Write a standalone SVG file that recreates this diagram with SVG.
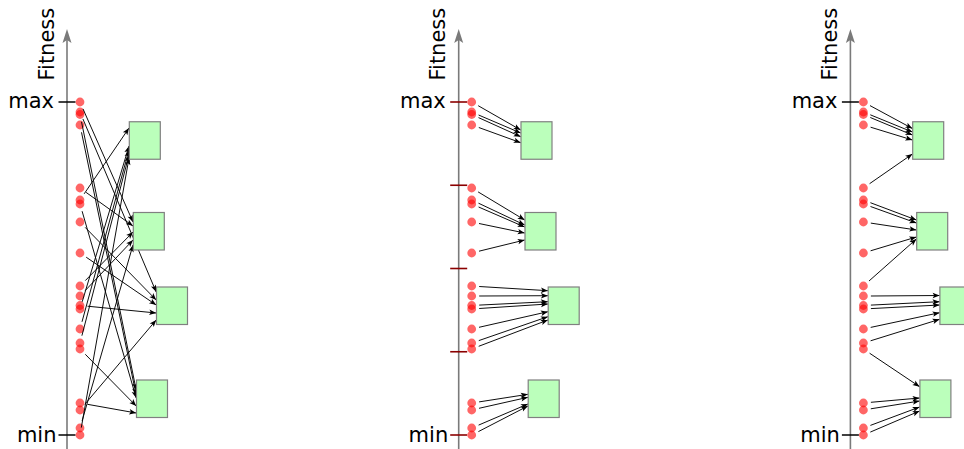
<svg xmlns="http://www.w3.org/2000/svg" xmlns:xlink="http://www.w3.org/1999/xlink" width="964" height="449" viewBox="0 0 964 449">
<style>
text{font-family:"DejaVu Sans","Liberation Sans",sans-serif;font-size:21px;fill:#000}
.axis{stroke:#7a7a7a;stroke-width:1.6;fill:none}
.axhead{fill:#7a7a7a}
.tick{stroke:#000;stroke-width:1.5}
.rtick{stroke:#8b0000;stroke-width:1.6}
.dot{fill:#ff0000;fill-opacity:0.6}
.box{fill:#bbffbb;stroke:#808080;stroke-width:1.2}
.conn line{stroke:#000;stroke-width:0.95;marker-end:url(#ah)}
</style>
<defs>
<marker id="ah" markerUnits="userSpaceOnUse" viewBox="-8 -4 9 8" markerWidth="9" markerHeight="8" refX="0" refY="0" orient="auto">
<path d="M0,0 L-7,-2.7 L-5.4,0 L-7,2.7 Z" fill="#000"/>
</marker>
<g id="axis">
<line class="axis" x1="67" y1="449" x2="67" y2="39"/>
<path class="axhead" d="M67,29 L71.5,43 L67,40 L62.5,43 Z"/>
<text transform="translate(53.5,80.5) rotate(-90)">Fitness</text>
<text x="54" y="107.5" text-anchor="end">max</text>
<text x="56.5" y="441.5" text-anchor="end">min</text>
</g>
<g id="dots">
<circle class="dot" cx="80" cy="102" r="4.4"/>
<circle class="dot" cx="80" cy="112" r="4.4"/>
<circle class="dot" cx="80" cy="114.5" r="4.4"/>
<circle class="dot" cx="80" cy="125" r="4.4"/>
<circle class="dot" cx="80" cy="188" r="4.4"/>
<circle class="dot" cx="80" cy="200" r="4.4"/>
<circle class="dot" cx="80" cy="204" r="4.4"/>
<circle class="dot" cx="80" cy="222" r="4.4"/>
<circle class="dot" cx="80" cy="253" r="4.4"/>
<circle class="dot" cx="80" cy="286" r="4.4"/>
<circle class="dot" cx="80" cy="296" r="4.4"/>
<circle class="dot" cx="80" cy="305.5" r="4.4"/>
<circle class="dot" cx="80" cy="309" r="4.4"/>
<circle class="dot" cx="80" cy="329" r="4.4"/>
<circle class="dot" cx="80" cy="343" r="4.4"/>
<circle class="dot" cx="80" cy="349" r="4.4"/>
<circle class="dot" cx="80" cy="403" r="4.4"/>
<circle class="dot" cx="80" cy="410" r="4.4"/>
<circle class="dot" cx="80" cy="428" r="4.4"/>
<circle class="dot" cx="80" cy="435" r="4.4"/>
</g>
</defs>

<!-- Panel 1: random -->
<g id="panel1">
<g id="p1-axis"><use xlink:href="#axis"/>
<line class="tick" x1="58.5" y1="102" x2="75.5" y2="102"/>
<line class="tick" x1="58.5" y1="435" x2="75.5" y2="435"/>
</g>
<g id="p1-population"><use xlink:href="#dots"/></g>
<g id="p1-connectors" class="conn">
<line x1="84.2" y1="193.8" x2="129" y2="128"/>
<line x1="82.2" y1="301.8" x2="129" y2="146"/>
<line x1="82" y1="321.8" x2="129" y2="150"/>
<line x1="81.9" y1="335.7" x2="129" y2="155"/>
<line x1="81.3" y1="427.6" x2="129" y2="158"/>
<line x1="83" y1="108.9" x2="133" y2="222"/>
<line x1="86.1" y1="192.4" x2="133" y2="226"/>
<line x1="85.3" y1="280.6" x2="133" y2="232"/>
<line x1="85.2" y1="290.6" x2="133" y2="240"/>
<line x1="82.1" y1="420.8" x2="133" y2="245"/>
<line x1="82.9" y1="118.9" x2="156.2" y2="292"/>
<line x1="85.2" y1="227.4" x2="156.2" y2="300"/>
<line x1="86.2" y1="257.2" x2="156.2" y2="305"/>
<line x1="87.5" y1="306.2" x2="156.2" y2="313"/>
<line x1="84.8" y1="404.3" x2="156.2" y2="320"/>
<line x1="81.5" y1="121.8" x2="136.2" y2="390"/>
<line x1="81.5" y1="132.3" x2="136.2" y2="395"/>
<line x1="82.1" y1="211.2" x2="136.2" y2="398"/>
<line x1="85.3" y1="354.3" x2="136.2" y2="406"/>
<line x1="87.4" y1="404.3" x2="136.2" y2="413"/>
</g>
<g id="p1-box1"><rect class="box" x="129.3" y="121.75" width="31" height="37.5"/></g>
<g id="p1-box2"><rect class="box" x="133.3" y="212.5" width="31" height="37.5"/></g>
<g id="p1-box3"><rect class="box" x="156.5" y="287" width="31" height="37.5"/></g>
<g id="p1-box4"><rect class="box" x="136.5" y="380" width="31" height="37.5"/></g>
</g>

<!-- Panel 2: fitness intervals -->
<g id="panel2" transform="translate(391.7,0)">
<g id="p2-axis"><use xlink:href="#axis"/>
<line class="rtick" x1="58.5" y1="102" x2="75.5" y2="102"/>
<line class="rtick" x1="58.5" y1="185.25" x2="75.5" y2="185.25"/>
<line class="rtick" x1="58.5" y1="268.5" x2="75.5" y2="268.5"/>
<line class="rtick" x1="58.5" y1="351.75" x2="75.5" y2="351.75"/>
<line class="rtick" x1="58.5" y1="435" x2="75.5" y2="435"/>
</g>
<g id="p2-population"><use xlink:href="#dots"/></g>
<g id="p2-connectors" class="conn">
<line x1="86.5" y1="105.7" x2="129" y2="130"/>
<line x1="86.9" y1="115" x2="129" y2="133"/>
<line x1="86.8" y1="117.6" x2="129" y2="136.7"/>
<line x1="87.1" y1="127.5" x2="129" y2="142.7"/>
<line x1="86.4" y1="191.9" x2="133" y2="220"/>
<line x1="86.8" y1="203.2" x2="133" y2="225"/>
<line x1="86.9" y1="207" x2="133" y2="227"/>
<line x1="87.3" y1="223.5" x2="133" y2="233"/>
<line x1="87.3" y1="251.2" x2="133" y2="240"/>
<line x1="87.5" y1="286.5" x2="156.2" y2="290.7"/>
<line x1="87.5" y1="296" x2="156.2" y2="295.7"/>
<line x1="87.5" y1="305.1" x2="156.2" y2="301.7"/>
<line x1="87.5" y1="308.5" x2="156.2" y2="304"/>
<line x1="87.3" y1="327.3" x2="156.2" y2="311.7"/>
<line x1="87.1" y1="340.6" x2="156.2" y2="316.7"/>
<line x1="87" y1="346.3" x2="156.2" y2="320"/>
<line x1="87.4" y1="401.9" x2="136.2" y2="394.3"/>
<line x1="87.3" y1="408.3" x2="136.2" y2="397.3"/>
<line x1="86.9" y1="425.1" x2="136.2" y2="404"/>
<line x1="86.7" y1="431.6" x2="136.2" y2="406"/>
</g>
<g id="p2-box1"><rect class="box" x="129.3" y="121.75" width="31" height="37.5"/></g>
<g id="p2-box2"><rect class="box" x="133.3" y="212.5" width="31" height="37.5"/></g>
<g id="p2-box3"><rect class="box" x="156.5" y="287" width="31" height="37.5"/></g>
<g id="p2-box4"><rect class="box" x="136.5" y="380" width="31" height="37.5"/></g>
</g>

<!-- Panel 3: equal-size groups -->
<g id="panel3" transform="translate(783.4,0)">
<g id="p3-axis"><use xlink:href="#axis"/>
<line class="tick" x1="58.5" y1="102" x2="75.5" y2="102"/>
<line class="tick" x1="58.5" y1="435" x2="75.5" y2="435"/>
</g>
<g id="p3-population"><use xlink:href="#dots"/></g>
<g id="p3-connectors" class="conn">
<line x1="86.6" y1="105.6" x2="129" y2="128.5"/>
<line x1="86.9" y1="114.8" x2="129" y2="132"/>
<line x1="86.9" y1="117.5" x2="129" y2="135"/>
<line x1="87.2" y1="127.2" x2="129" y2="140"/>
<line x1="86.2" y1="183.7" x2="129" y2="154"/>
<line x1="87" y1="202.7" x2="133" y2="220"/>
<line x1="87.1" y1="206.5" x2="133" y2="223"/>
<line x1="87.4" y1="223.1" x2="133" y2="230"/>
<line x1="87.2" y1="250.8" x2="133" y2="237"/>
<line x1="85.6" y1="281" x2="133" y2="239"/>
<line x1="87.5" y1="296" x2="156.2" y2="295.5"/>
<line x1="87.5" y1="305.1" x2="156.2" y2="301.7"/>
<line x1="87.5" y1="308.6" x2="156.2" y2="305"/>
<line x1="87.3" y1="327.4" x2="156.2" y2="312.7"/>
<line x1="87.2" y1="340.8" x2="156.2" y2="319.3"/>
<line x1="86.2" y1="353.2" x2="136.2" y2="386.7"/>
<line x1="87.5" y1="402.3" x2="136.2" y2="398"/>
<line x1="87.4" y1="408.8" x2="136.2" y2="401"/>
<line x1="87" y1="425.4" x2="136.2" y2="407"/>
<line x1="86.9" y1="432.1" x2="136.2" y2="411"/>
</g>
<g id="p3-box1"><rect class="box" x="129.3" y="121.75" width="31" height="37.5"/></g>
<g id="p3-box2"><rect class="box" x="133.3" y="212.5" width="31" height="37.5"/></g>
<g id="p3-box3"><rect class="box" x="156.5" y="287" width="31" height="37.5"/></g>
<g id="p3-box4"><rect class="box" x="136.5" y="380" width="31" height="37.5"/></g>
</g>
</svg>
